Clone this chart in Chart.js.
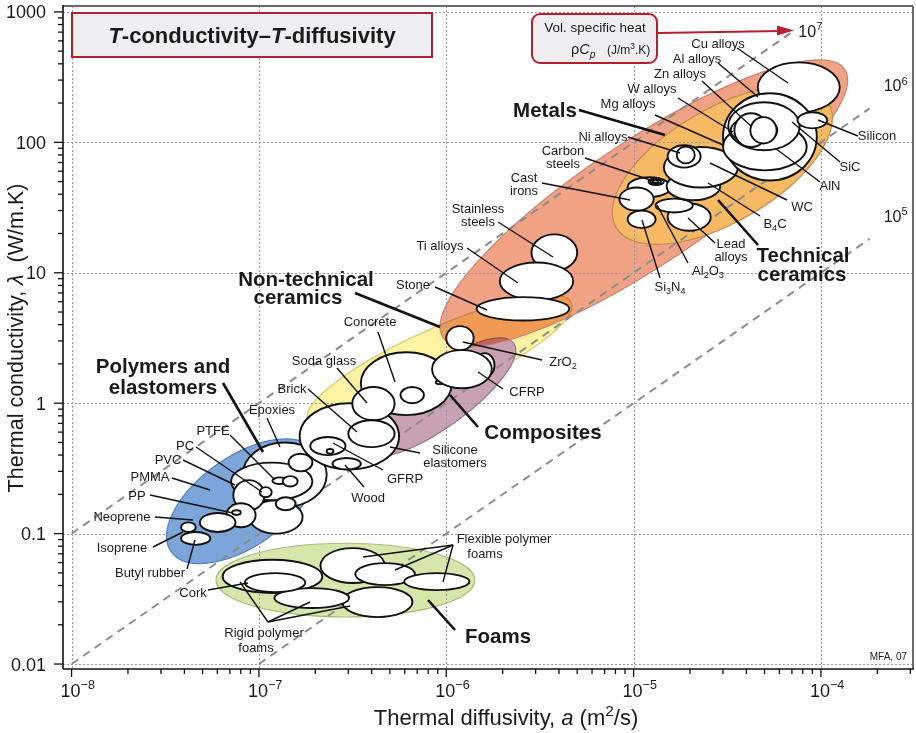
<!DOCTYPE html>
<html>
<head>
<meta charset="utf-8">
<title>T-conductivity – T-diffusivity</title>
<script src="https://cdn.jsdelivr.net/npm/chart.js@4.4.1/dist/chart.umd.min.js"></script>
<style>
  html, body { margin: 0; padding: 0; background: #fff; }
  #wrap { width: 916px; height: 733px; }
</style>
</head>
<body>
<div id="wrap"><canvas id="chart" width="916" height="733"></canvas></div>
<script>
const FONT = "'Liberation Sans', Arial, Helvetica, sans-serif";

// axes (thermal diffusivity a in m2/s, thermal conductivity lambda in W/m.K)
const aRange = [9.4e-9, 3.1e-4];
const lambdaRange = [0.00916, 1110];
const xDecades = [1e-8, 1e-7, 1e-6, 1e-5, 1e-4];
const xTickText = ['10^−^8', '10^−^7', '10^−^6', '10^−^5', '10^−^4'];
const yDecades = [0.01, 0.1, 1, 10, 100, 1000];
const yTickText = ['0.01', '0.1', '1', '10', '100', '1000'];

// guide lines of constant volumetric specific heat rho*Cp
const heatNames = ['10^5', '10^6', '10^7'];
const heatA = [[1e-7, 1.82e-4], [1e-8, 1.82e-4], [1e-8, 7.3e-5]];
const heatLambda = [[0.01, 18.2], [0.01, 182], [0.1, 730]];

// material family envelopes, given by the two ends of their long axis
const familyNames = ['Foams', 'Polymers and elastomers', 'Non-technical ceramics', 'Composites', 'Metals', 'Technical ceramics'];
const familyA1 = [5.9e-8, 3.4e-8, 1.82e-7, 3.56e-7, 9.6e-7, 8.05e-6];
const familyL1 = [0.044, 0.0728, 0.74, 0.42, 3.2, 22.3];
const familyA2 = [1.42e-6, 1.98e-7, 4.65e-6, 2.29e-6, 1.34e-4, 1.10e-4];
const familyL2 = [0.044, 0.432, 5.9, 2.88, 362, 199];

// material bubbles: ranges of a and lambda (drawing order)
const materials = [
  'Rigid foam A', 'Flexible foam A', 'Rigid foam C', 'Rigid foam B', 'Cork', 'Flexible foam B', 'Flexible foam C',
  'Epoxies', 'PE', 'PA', 'PS', 'PVC', 'PC', 'PTFE', 'PEEK', 'PET', 'PP', 'PP (filled)', 'Neoprene', 'Butyl rubber', 'Isoprene',
  'Silicone elastomers', 'Concrete', 'Glass ceramic', 'Silica glass', 'Soda glass', 'Brick', 'GFRP', 'GFRP (mat)', 'Wood',
  'CFRP (UD)', 'CFRP', 'ZrO2', 'Stainless steels', 'Ti alloys', 'Stone',
  'Si3N4', 'Lead alloys', 'Al2O3', 'Carbon steels', 'Cast irons', 'Low alloy steel', 'Medium carbon steel', 'High carbon steel',
  'B4C', 'WC', 'Ni alloys', 'Nickel', 'Cu alloys', 'Al alloys', 'AlN', 'W alloys', 'Mg alloys', 'Zn alloys', 'SiC', 'Silicon'
];
const diffusivity = [
  [6.4e-8, 2.18e-7], [2.13e-7, 4.7e-7], [2.79e-7, 6.6e-7], [1.21e-7, 3.03e-7], [8.4e-8, 1.77e-7], [3.27e-7, 6.8e-7], [5.96e-7, 1.33e-6],
  [8.2e-8, 2.3e-7], [8.9e-8, 1.71e-7], [7.1e-8, 1.93e-7], [1.44e-7, 1.93e-7], [7.3e-8, 1.07e-7], [1.01e-7, 1.17e-7], [1.18e-7, 1.41e-7],
  [1.34e-7, 1.61e-7], [1.23e-7, 1.57e-7], [6.7e-8, 9.6e-8], [7.2e-8, 8.0e-8], [4.84e-8, 7.5e-8], [3.84e-8, 5.5e-8], [3.84e-8, 4.6e-8],
  [1.65e-7, 5.6e-7], [3.5e-7, 1.07e-6], [5.7e-7, 7.6e-7], [8.8e-7, 9.7e-7], [3.15e-7, 5.3e-7], [3.0e-7, 5.3e-7], [1.88e-7, 2.9e-7],
  [2.3e-7, 2.5e-7], [2.47e-7, 3.5e-7],
  [1.42e-6, 1.81e-6], [8.4e-7, 1.75e-6], [1.0e-6, 1.4e-6], [2.85e-6, 5.0e-6], [1.93e-6, 4.76e-6], [1.45e-6, 4.54e-6],
  [9.3e-6, 1.31e-5], [1.52e-5, 2.58e-5], [1.31e-5, 2.07e-5], [9.3e-6, 1.58e-5], [8.4e-6, 1.28e-5], [1.2e-5, 1.45e-5],
  [1.23e-5, 1.4e-5], [1.26e-5, 1.36e-5],
  [1.5e-5, 2.9e-5], [1.45e-5, 3.6e-5], [1.52e-5, 2.28e-5], [1.7e-5, 2.12e-5], [4.6e-5, 1.26e-4], [3.0e-5, 9.5e-5],
  [3.0e-5, 8.4e-5], [3.2e-5, 7.7e-5], [3.3e-5, 5.85e-5], [3.45e-5, 5.2e-5], [4.2e-5, 5.8e-5], [7.5e-5, 1.08e-4]
];
const conductivity = [
  [0.035, 0.063], [0.0418, 0.0774], [0.0229, 0.0389], [0.0269, 0.0382], [0.0356, 0.0498], [0.0403, 0.0594], [0.0369, 0.0498],
  [0.16, 0.50], [0.10, 0.18], [0.18, 0.35], [0.30, 0.41], [0.151, 0.257], [0.19, 0.227], [0.24, 0.27],
  [0.23, 0.276], [0.151, 0.19], [0.112, 0.171], [0.139, 0.151], [0.103, 0.144], [0.082, 0.103], [0.103, 0.122],
  [0.31, 1.0], [0.81, 2.46], [1.0, 1.33], [1.4, 1.5], [0.74, 1.33], [0.46, 0.74], [0.40, 0.55],
  [0.41, 0.445], [0.31, 0.38],
  [1.58, 2.42], [1.3, 2.55], [2.55, 3.9], [10.4, 19.7], [6.15, 12.0], [4.3, 6.5],
  [22, 30], [21, 34], [29, 37], [38, 54], [30, 45], [47, 53],
  [48, 52], [49, 51.5],
  [36, 59], [45, 92], [64, 95], [69, 93], [170, 410], [51, 238],
  [61, 140], [87, 203], [98, 156], [92, 167], [98, 156], [128, 170]
];

// look of the envelopes
const familyRatio = [0.285, 0.51, 0.23, 0.32, 0.256, 0.46];
const familyFill = ['#d7e6aa', '#7ca5da', '#fdf3a2', '#c8a1b2', '#f2a284', '#f6b964'];
const familyEdge = ['#a9be78', '#4f7fbf', '#d9cb78', '#9c7388', '#c9806a', '#c68a4c'];
const familyBlend = ['source-over', 'source-over', 'source-over', 'source-over', 'multiply', 'source-over'];

// annotation layout (pixels): text, x, y, leader lines
const labels = [
  ['Cu alloys', 718, 43, [[737, 48, 788, 83]]],
  ['Al alloys', 697, 58, [[718, 63, 758, 97]]],
  ['Zn alloys', 680, 73, [[702, 81, 752, 127]]],
  ['W alloys', 652, 88, [[678, 98, 733, 132]]],
  ['Mg alloys', 628, 103, [[655, 115, 723, 145]]],
  ['Ni alloys', 603, 136, [[628, 137, 680, 153]]],
  ['Carbon\nsteels', 563, 150, [[585, 158, 650, 180]]],
  ['Cast\nirons', 524, 177, [[542, 183, 630, 200]]],
  ['Stainless\nsteels', 478, 208, [[498, 222, 553, 257]]],
  ['Ti alloys', 440, 245, [[467, 248, 518, 283]]],
  ['Stone', 413, 284, [[435, 287, 487, 310]]],
  ['ZrO_2', 563, 361, [[463, 342, 542, 360]]],
  ['CFRP', 527, 391, [[478, 372, 503, 389]]],
  ['Concrete', 370, 321, [[378, 332, 395, 382]]],
  ['Soda glass', 324, 360, [[337, 368, 367, 403]]],
  ['Brick', 292, 388, [[308, 389, 357, 432]]],
  ['Silicone\nelastomers', 455, 449, [[390, 447, 420, 453]]],
  ['GFRP', 405, 478, [[333, 443, 383, 470]]],
  ['Wood', 368, 497, [[345, 465, 364, 487]]],
  ['Epoxies', 272, 409, [[267, 418, 280, 447]]],
  ['PTFE', 213, 430, [[230, 435, 275, 480]]],
  ['PC', 185, 445, [[196, 447, 262, 492]]],
  ['PVC', 168, 459, [[183, 460, 235, 485]]],
  ['PMMA', 150, 476, [[172, 478, 210, 490]]],
  ['PP', 137, 495, [[150, 495, 233, 513]]],
  ['Neoprene', 122, 516, [[155, 517, 193, 520]]],
  ['Isoprene', 122, 547, [[153, 547, 183, 532]]],
  ['Butyl rubber', 150, 572, [[187, 569, 195, 540]]],
  ['Cork', 193, 592, [[208, 590, 248, 583]]],
  ['Rigid polymer', 264, 632, [[268, 622, 240, 582], [268, 622, 310, 602], [268, 622, 350, 606]]],
  ['foams', 256, 647, []],
  ['Flexible polymer', 504, 538, [[453, 545, 363, 557], [453, 545, 395, 570], [453, 545, 443, 582]]],
  ['foams', 485, 553, []],
  ['Silicon', 877, 135, [[818, 120, 858, 136]]],
  ['SiC', 850, 166, [[792, 122, 840, 162]]],
  ['AlN', 830, 185, [[775, 148, 820, 182]]],
  ['WC', 802, 206, [[710, 163, 787, 200]]],
  ['B_4C', 775, 223, [[708, 183, 760, 216]]],
  ['Lead\nalloys', 731, 243, [[688, 218, 715, 243]]],
  ['Al_2O_3', 708, 270, [[657, 205, 688, 263]]],
  ['Si_3N_4', 670, 286, [[642, 220, 660, 278]]]
];
const familyLabels = [
  ['Metals', 545, 110, [[579, 110, 665, 135]]],
  ['Non-technical', 306, 279, []],
  ['ceramics', 298, 297, [[355, 293, 440, 327]]],
  ['Composites', 543, 432, [[478, 427, 450, 395]]],
  ['Polymers and', 163, 366, []],
  ['elastomers', 163, 387, [[223, 383, 263, 452]]],
  ['Technical', 803, 255, []],
  ['ceramics', 802, 274, [[758, 245, 718, 200]]],
  ['Foams', 498, 636, [[455, 630, 428, 600]]]
];

// text with ~italic~, _sub and ^sup (one char each)
function drawRich(ctx, str, x, y, size, align, bold, color) {
  const segs = [];
  let it = false;
  for (let i = 0; i < str.length; i++) {
    let c = str[i];
    if (c === '~') { it = !it; continue; }
    let m = '';
    if ((c === '_' || c === '^') && i + 1 < str.length) { m = c; c = str[++i]; }
    segs.push({ t: c, m: m, it: it });
  }
  const fontOf = s => (s.it ? 'italic ' : '') + (bold ? 'bold ' : '') + (s.m ? size * 0.7 : size) + 'px ' + FONT;
  // merge runs with the same style so kerning stays natural
  const runs = [];
  segs.forEach(s => {
    const last = runs[runs.length - 1];
    if (last && last.m === s.m && last.it === s.it) last.t += s.t;
    else runs.push({ t: s.t, m: s.m, it: s.it });
  });
  let w = 0;
  runs.forEach(r => { ctx.font = fontOf(r); r.w = ctx.measureText(r.t).width; w += r.w; });
  let cx = align === 'left' ? x : align === 'right' ? x - w : x - w / 2;
  ctx.textAlign = 'left';
  ctx.textBaseline = 'alphabetic';
  ctx.fillStyle = color || '#1a1a1a';
  runs.forEach(r => {
    ctx.font = fontOf(r);
    const dy = r.m === '_' ? size * 0.28 : r.m === '^' ? -size * 0.42 : 0;
    ctx.fillText(r.t, cx, y + dy);
    cx += r.w;
  });
  return w;
}

function seg(ctx, x1, y1, x2, y2) {
  ctx.beginPath(); ctx.moveTo(x1, y1); ctx.lineTo(x2, y2); ctx.stroke();
}

function drawLabels(ctx, list, size, lineH, bold, lw) {
  list.forEach(l => {
    ctx.strokeStyle = '#111';
    ctx.lineWidth = lw;
    l[3].forEach(p => seg(ctx, p[0], p[1], p[2], p[3]));
    l[0].split('\n').forEach((line, k) => {
      drawRich(ctx, line, l[1], l[2] + k * lineH + size * 0.36, size, 'center', bold);
    });
  });
}

function roundRect(ctx, x, y, w, h, r) {
  ctx.beginPath();
  ctx.moveTo(x + r, y);
  ctx.arcTo(x + w, y, x + w, y + h, r);
  ctx.arcTo(x + w, y + h, x, y + h, r);
  ctx.arcTo(x, y + h, x, y, r);
  ctx.arcTo(x, y, x + w, y, r);
  ctx.closePath();
}

const ashby = {
  id: 'ashby',
  beforeDraw(chart) {
    const ctx = chart.ctx;
    ctx.save();
    ctx.fillStyle = '#fff';
    ctx.fillRect(0, 0, chart.width, chart.height);
    ctx.restore();
  },
  beforeDatasetsDraw(chart) {
    const { ctx, chartArea: ca, scales: { x, y } } = chart;
    ctx.save();
    ctx.beginPath();
    ctx.rect(ca.left, ca.top, ca.right - ca.left, ca.bottom - ca.top);
    ctx.clip();
    familyNames.forEach((name, i) => {
      const x1 = x.getPixelForValue(familyA1[i]), y1 = y.getPixelForValue(familyL1[i]);
      const x2 = x.getPixelForValue(familyA2[i]), y2 = y.getPixelForValue(familyL2[i]);
      const half = Math.hypot(x2 - x1, y2 - y1) / 2;
      ctx.beginPath();
      ctx.ellipse((x1 + x2) / 2, (y1 + y2) / 2, half, half * familyRatio[i], Math.atan2(y2 - y1, x2 - x1), 0, Math.PI * 2);
      ctx.globalCompositeOperation = familyBlend[i];
      ctx.fillStyle = familyFill[i];
      ctx.fill();
      ctx.globalCompositeOperation = 'source-over';
      ctx.lineWidth = 1.2;
      ctx.strokeStyle = familyEdge[i];
      ctx.stroke();
    });
    // dotted decade grid
    ctx.strokeStyle = '#9a9a9a';
    ctx.lineWidth = 1;
    ctx.setLineDash([2, 2]);
    xDecades.forEach(v => {
      const px = Math.round(x.getPixelForValue(v)) + 0.5;
      seg(ctx, px, ca.top, px, ca.bottom);
    });
    yDecades.forEach(v => {
      const py = Math.round(y.getPixelForValue(v)) + 0.5;
      seg(ctx, ca.left, py, ca.right, py);
    });
    ctx.restore();
  },
  afterDatasetsDraw(chart) {
    const { ctx, chartArea: ca, scales: { x, y } } = chart;
    ctx.save();
    ctx.beginPath();
    ctx.rect(ca.left, ca.top, ca.right - ca.left, ca.bottom - ca.top);
    ctx.clip();
    materials.forEach((m, i) => {
      const x1 = x.getPixelForValue(diffusivity[i][0]), x2 = x.getPixelForValue(diffusivity[i][1]);
      const y1 = y.getPixelForValue(conductivity[i][0]), y2 = y.getPixelForValue(conductivity[i][1]);
      ctx.beginPath();
      ctx.ellipse((x1 + x2) / 2, (y1 + y2) / 2, Math.abs(x2 - x1) / 2, Math.abs(y2 - y1) / 2, 0, 0, Math.PI * 2);
      ctx.fillStyle = '#fff';
      ctx.fill();
      ctx.lineWidth = 1.9;
      ctx.strokeStyle = '#111';
      ctx.stroke();
    });
    ctx.restore();

    ctx.save();
    ctx.lineCap = 'butt';
    drawLabels(ctx, labels, 13, 13, false, 1.4);
    drawLabels(ctx, familyLabels, 20.5, 19, true, 2.6);

    // rho*Cp values at the ends of the guide lines
    heatNames.forEach((t, i) => {
      const px = x.getPixelForValue(heatA[i][1]), py = y.getPixelForValue(heatLambda[i][1]);
      const pos = i === 2 ? [px + 3, py + 7] : [px + 14, py - 17];
      drawRich(ctx, t, pos[0], pos[1], 16, 'left', false);
    });

    // title box
    ctx.fillStyle = '#efeff1';
    ctx.strokeStyle = '#b51f2e';
    ctx.lineWidth = 2;
    ctx.fillRect(72, 13, 360, 44);
    ctx.strokeRect(72, 13, 360, 44);
    drawRich(ctx, '~T~-conductivity–~T~-diffusivity', 252, 43, 22, 'center', true);

    // volumetric specific heat box and arrow
    roundRect(ctx, 532, 14, 125, 49, 8);
    ctx.fillStyle = '#efeff1';
    ctx.fill();
    ctx.stroke();
    drawRich(ctx, 'Vol. specific heat', 595, 32, 13.5, 'center', false);
    drawRich(ctx, 'ρ~C_p~', 571, 54, 14.5, 'left', false);
    drawRich(ctx, '(J/m^3.K)', 607, 54, 12, 'left', false);
    ctx.strokeStyle = '#b51f2e';
    ctx.lineWidth = 2;
    seg(ctx, 658, 33, 780, 31);
    ctx.fillStyle = '#b51f2e';
    ctx.beginPath();
    ctx.moveTo(794, 30.5); ctx.lineTo(777, 25.5); ctx.lineTo(777, 35.5); ctx.closePath();
    ctx.fill();

    drawRich(ctx, 'MFA, 07', 907, 660, 10, 'right', false);

    // frame
    ctx.strokeStyle = '#6a6a6a';
    ctx.lineWidth = 2;
    seg(ctx, ca.left, ca.top, ca.right, ca.top);
    seg(ctx, ca.right, ca.top, ca.right, ca.bottom);
    ctx.strokeStyle = '#111';
    ctx.lineWidth = 1.6;
    seg(ctx, ca.left, ca.top - 1, ca.left, ca.bottom);
    seg(ctx, ca.left, ca.bottom, ca.right + 1, ca.bottom);

    // ticks (major and minor, outside)
    ctx.lineWidth = 1.3;
    for (let d = 1e-9; d < 1e-3; d *= 10) {
      for (let k = 1; k <= 9; k++) {
        const v = d * k;
        if (v < aRange[0] || v > aRange[1]) continue;
        const px = x.getPixelForValue(v);
        seg(ctx, px, ca.bottom, px, ca.bottom + (k === 1 ? 8 : 5));
      }
    }
    for (let d = 0.001; d < 1e4; d *= 10) {
      for (let k = 1; k <= 9; k++) {
        const v = d * k;
        if (v < lambdaRange[0] || v > lambdaRange[1]) continue;
        const py = y.getPixelForValue(v);
        seg(ctx, ca.left, py, ca.left - (k === 1 ? 9 : 5), py);
      }
    }
    xDecades.forEach((v, i) => {
      const px = x.getPixelForValue(v);
      drawRich(ctx, xTickText[i], px - 11, 697, 18, 'left', false);
    });
    yDecades.forEach((v, i) => {
      const py = y.getPixelForValue(v);
      drawRich(ctx, yTickText[i], 46, py + 6.5, 18, 'right', false);
    });

    // axis titles
    drawRich(ctx, 'Thermal diffusivity, ~a~ (m^2/s)', 506, 725, 22, 'center', false);
    ctx.translate(23, 338);
    ctx.rotate(-Math.PI / 2);
    drawRich(ctx, 'Thermal conductivity, ~λ~  (W/m.K)', 0, 0, 21.5, 'center', false);
    ctx.restore();
  }
};

new Chart(document.getElementById('chart'), {
  type: 'scatter',
  data: {
    datasets: heatNames.map((t, i) => ({
      label: t,
      data: [{ x: heatA[i][0], y: heatLambda[i][0] }, { x: heatA[i][1], y: heatLambda[i][1] }],
      showLine: true,
      borderColor: '#8c8c8c',
      borderWidth: 2,
      borderDash: [8, 6],
      pointRadius: 0
    }))
  },
  options: {
    responsive: false,
    animation: false,
    devicePixelRatio: 1,
    layout: { padding: { left: 63, right: 3, top: 6, bottom: 64 } },
    plugins: { legend: { display: false }, tooltip: { enabled: false } },
    scales: {
      x: { type: 'logarithmic', min: aRange[0], max: aRange[1], display: false },
      y: { type: 'logarithmic', min: lambdaRange[0], max: lambdaRange[1], display: false }
    }
  },
  plugins: [ashby]
});
</script>
</body>
</html>
